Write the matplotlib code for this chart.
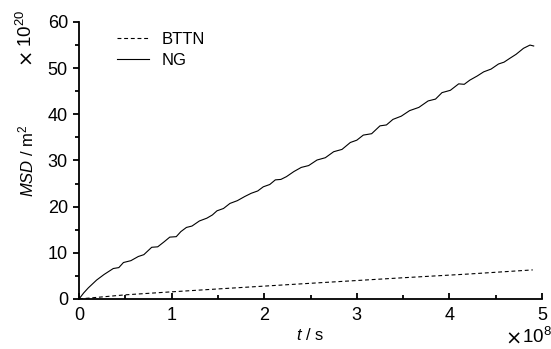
import matplotlib
matplotlib.use('Agg')
from matplotlib import pyplot as plt
from matplotlib.ticker import MultipleLocator

plt.rcParams['font.family'] = ['Liberation Sans', 'DejaVu Sans']
plt.rcParams['mathtext.fontset'] = 'custom'
plt.rcParams['mathtext.rm'] = 'Liberation Sans'
plt.rcParams['mathtext.it'] = 'Liberation Sans:italic'

# time in units of 1e8 s, MSD in units of 1e20 m^2
ng_t = [0.0, 0.05, 0.10, 0.19, 0.27, 0.37, 0.43, 0.48, 0.56, 0.64, 0.70, 0.785,
        0.85, 0.92, 0.98, 1.05, 1.10, 1.16, 1.22, 1.30, 1.38, 1.44, 1.49, 1.56,
        1.63, 1.71, 1.79, 1.86, 1.93, 1.99, 2.06, 2.12, 2.18, 2.24, 2.32, 2.40,
        2.48, 2.57, 2.66, 2.75, 2.84, 2.93, 3.00, 3.07, 3.16, 3.25, 3.32, 3.39,
        3.48, 3.57, 3.67, 3.77, 3.85, 3.92, 4.01, 4.10, 4.16, 4.22, 4.30, 4.37,
        4.45, 4.53, 4.59, 4.65, 4.72, 4.80, 4.87, 4.91]
ng_msd = [0.0, 1.3, 2.4, 4.1, 5.3, 6.6, 6.8, 7.9, 8.3, 9.2, 9.6, 11.2,
          11.3, 12.4, 13.4, 13.5, 14.6, 15.5, 15.8, 16.9, 17.5, 18.2, 19.1, 19.6,
          20.7, 21.3, 22.2, 22.9, 23.4, 24.3, 24.8, 25.8, 25.9, 26.5, 27.6, 28.5,
          28.9, 30.1, 30.6, 31.9, 32.4, 33.9, 34.4, 35.5, 35.8, 37.5, 37.7, 38.9,
          39.6, 40.8, 41.5, 42.9, 43.3, 44.7, 45.2, 46.6, 46.5, 47.4, 48.3, 49.2,
          49.8, 50.9, 51.3, 52.1, 53.0, 54.3, 55.0, 54.8]

bttn_t = [0.0, 0.5, 1.0, 1.6, 2.5, 3.5, 4.2, 4.9]
bttn_msd = [0.0, 0.9, 1.55, 2.3, 3.4, 4.6, 5.4, 6.3]

W, H = 551, 349
fig = plt.figure(figsize=(W / 100, H / 100), dpi=100)
ax = fig.add_axes([0.1434, 0.1433, 0.8403, 0.7937])

ax.plot(bttn_t, bttn_msd, color='black', linestyle=(0, (3.5, 2.5)), linewidth=0.8, label='BTTN')
ax.plot(ng_t, ng_msd, color='black', linestyle='-', linewidth=0.8, label='NG')

ax.set_xlim(0, 5)
ax.set_ylim(0, 60)
ax.xaxis.set_major_locator(MultipleLocator(1))
ax.xaxis.set_minor_locator(MultipleLocator(0.5))
ax.yaxis.set_major_locator(MultipleLocator(10))
ax.yaxis.set_minor_locator(MultipleLocator(5))

ax.spines['top'].set_visible(False)
ax.spines['right'].set_visible(False)
for s in ['left', 'bottom']:
    ax.spines[s].set_linewidth(1.3)
ax.tick_params(axis='x', which='both', direction='in', width=1.3, labelsize=13, pad=6)
ax.tick_params(axis='x', which='major', length=4)
ax.tick_params(axis='x', which='minor', length=3)
ax.tick_params(axis='y', which='both', direction='out', width=1.3, labelsize=13, pad=4)
ax.tick_params(axis='y', which='major', length=4)
ax.tick_params(axis='y', which='minor', length=3)

ax.set_xlabel('$t$ / s', fontsize=12, labelpad=2)
ax.set_ylabel('$MSD$ / m$^2$', fontsize=12, labelpad=8)

# axis multipliers: "x" sign plus 10^n
fig.text(25 / W, 1 - 56 / H, '×', rotation=90, fontsize=14, family='DejaVu Sans',
         ha='center', va='center')
fig.text(25.5 / W, 1 - 28 / H, '10$^{20}$', rotation=90, fontsize=13.5, ha='center', va='center')
fig.text(514 / W, 1 - 339 / H, '×', fontsize=14, family='DejaVu Sans',
         ha='center', va='center')
fig.text(537 / W, 1 - 337 / H, '10$^{8}$', fontsize=13.5, ha='center', va='center')

ax.legend(loc='upper left', bbox_to_anchor=(0.082, 0.965), frameon=False, fontsize=12,
          borderpad=0, borderaxespad=0,
          handlelength=1.9, handletextpad=0.75, labelspacing=0.35)

fig.savefig('out.png', dpi=100)
